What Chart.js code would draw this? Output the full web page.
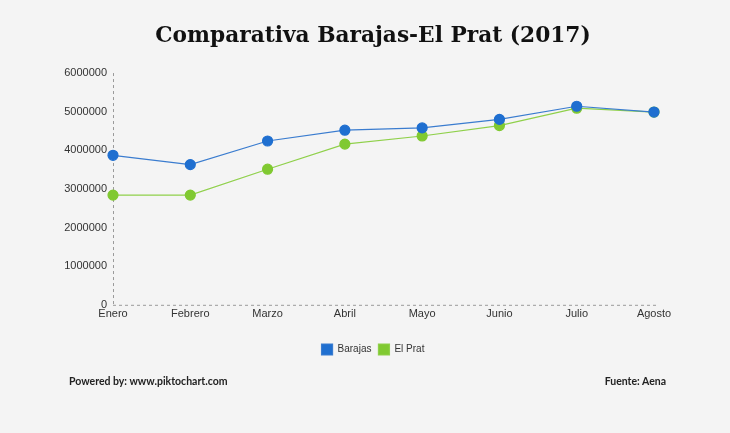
<!DOCTYPE html>
<html>
<head>
<meta charset="utf-8">
<script src="https://cdn.jsdelivr.net/npm/chart.js@4/dist/chart.umd.min.js"></script>
<style>
  html,body{margin:0;padding:0;background:#f4f4f4;}
  #wrap{position:relative;width:730px;height:433px;overflow:hidden;background:#f4f4f4;}
  canvas{position:absolute;left:0;top:0;}
  .foot{position:absolute;top:375px;font:bold 10.5px Lato,sans-serif;color:#222;}
</style>
</head>
<body>
<div id="wrap">
  <canvas id="c" width="730" height="433"></canvas>
  <div class="foot" style="left:69px">Powered by: www.piktochart.com</div>
  <div class="foot" style="right:64px">Fuente: Aena</div>
</div>
<script>
// Datos (pasajeros por mes, 2017)
const months = ['Enero','Febrero','Marzo','Abril','Mayo','Junio','Julio','Agosto'];
const barajas = [3870000,3630000,4240000,4520000,4580000,4800000,5140000,4990000];
const elPrat  = [2840000,2840000,3510000,4160000,4370000,4640000,5090000,4990000];
const yTicks = [0,1000000,2000000,3000000,4000000,5000000,6000000];

const blue = '#1f6fd0', green = '#80c931';
const axisCol = '#9a9a9a';
const tickFont = {family:'Liberation Sans', size:11};

// ancho de la etiqueta más larga, para colocar las etiquetas del eje Y en modo mirror
const mctx = document.createElement('canvas').getContext('2d');
mctx.font = '11px "Liberation Sans"';
const widest = Math.max(...yTicks.map(v => mctx.measureText(String(v)).width));

// ejes punteados (el borde de v4 no admite guiones)
const dashedAxes = {
  id:'dashedAxes',
  beforeDatasetsDraw(chart){
    const {ctx, chartArea:a} = chart;
    ctx.save();
    ctx.strokeStyle = axisCol; ctx.lineWidth = 1; ctx.setLineDash([3,3]);
    ctx.beginPath();
    ctx.moveTo(a.left+0.5, a.top); ctx.lineTo(a.left+0.5, a.bottom);
    ctx.moveTo(a.left, a.bottom+0.5); ctx.lineTo(a.right+2, a.bottom+0.5);
    ctx.stroke();
    ctx.restore();
  }
};

new Chart(document.getElementById('c').getContext('2d'), {
  type: 'line',
  data: {
    labels: months,
    datasets: [
      {label:'Barajas', data:barajas, borderColor:'#3a7ccf', backgroundColor:blue, pointBackgroundColor:blue, pointBorderColor:blue, borderWidth:1.2, pointRadius:5, tension:0, fill:false},
      {label:'El Prat', data:elPrat, borderColor:'#8fd04a', backgroundColor:green, pointBackgroundColor:green, pointBorderColor:green, borderWidth:1.2, pointRadius:5, tension:0, fill:false}
    ]
  },
  options: {
    responsive:false, animation:false,
    layout:{padding:{top:14,left:92,right:76,bottom:68}},
    plugins:{
      title:{display:true, text:'Comparativa Barajas-El Prat (2017)', color:'#111',
        font:{family:'DejaVu Serif', size:21.7, weight:'bold'}, padding:{top:9,bottom:24}},
      legend:{position:'bottom', labels:{boxWidth:11, boxHeight:11, color:'#333', padding:7,
        font:{family:'Liberation Sans', size:10}}},
      tooltip:{enabled:false}
    },
    scales:{
      x:{offset:false, grid:{display:false}, border:{display:false},
        afterFit: s => { s.height += 21; },
        ticks:{color:'#333', font:tickFont, padding:-5, maxRotation:0}},
      y:{min:0, max:6000000, grid:{display:false}, border:{display:false},
        afterFit: s => { s.width = 21; },
        afterBuildTicks: s => { s.ticks = yTicks.map(v=>({value:v})); },
        ticks:{color:'#333', font:tickFont, mirror:true, crossAlign:'far', padding:-(widest+6), callback:v=>String(v)}}
    }
  },
  plugins:[dashedAxes]
});
</script>
</body>
</html>
